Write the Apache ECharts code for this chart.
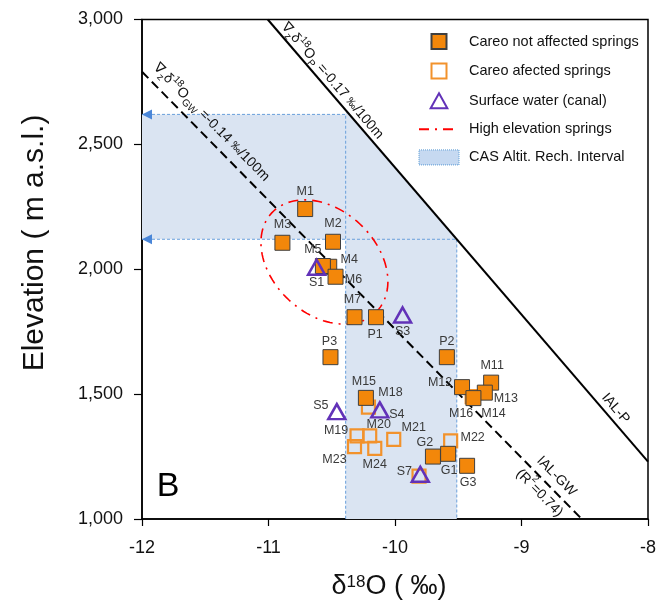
<!DOCTYPE html>
<html>
<head>
<meta charset="utf-8">
<script src="https://cdn.jsdelivr.net/npm/echarts@6/dist/echarts.min.js"></script>
<style>
  html, body { margin: 0; padding: 0; background: #fff; }
  #chart { width: 659px; height: 608px; }
</style>
</head>
<body>
<div id="chart"></div>
<script>
// Axis ticks
const xTicks = [-12, -11, -10, -9, -8];
const yTicks = [1000, 1500, 2000, 2500, 3000];

// Careo springs not affected
const notAffectedNames = ['M1', 'M2', 'M3', 'M4', 'M5', 'M6', 'M7', 'P1', 'P2', 'P3', 'M11', 'M12', 'M13', 'M14', 'M15', 'G1', 'G2', 'G3'];
const notAffectedD18O  = [-10.71, -10.49, -10.89, -10.52, -10.57, -10.47, -10.32, -10.15, -9.59, -10.51, -9.24, -9.47, -9.29, -9.38, -10.23, -9.58, -9.70, -9.43];
const notAffectedElev  = [2241, 2110, 2106, 2010, 2013, 1970, 1808, 1808, 1648, 1648, 1546, 1528, 1506, 1484, 1485, 1261, 1250, 1213];

// Careo affected springs
const affectedNames = ['M16', 'M18', 'M19', 'M20', 'M21', 'M22', 'M23', 'M24', ''];
const affectedD18O  = [-9.39, -10.21, -10.30, -10.20, -10.01, -9.56, -10.32, -10.16, -9.81];
const affectedElev  = [1490, 1448, 1333, 1333, 1319, 1313, 1290, 1283, 1172];

// Surface water (canal)
const surfaceNames = ['S1', 'S3', 'S4', 'S5', 'S7'];
const surfaceD18O  = [-10.62, -9.94, -10.12, -10.46, -9.80];
const surfaceElev  = [2008, 1817, 1437, 1430, 1179];

// Isotope-altitude lines (end points)
const ialPD18O  = [-11.006, -8.0];
const ialPElev  = [3000, 1230];
const ialGWD18O = [-12.0, -8.524];
const ialGWElev = [2791, 1000];

// CAS recharge altitude interval
const casElev = [2120, 2620];
const casD18OLeft = -10.39;

// High elevation springs group (ellipse centre)
const hiElevCenter = [-10.558, 2029];

// Label placement for the sample names (pixel offsets from the marker)
const labelOffsets = {
  M1: [0, -18], M2: [0, -18], M3: [0, -18], M4: [20, -7], M5: [-10, -16], M6: [18, 3],
  M7: [-2, -18], P1: [-1, 17], P2: [0, -16], P3: [-1, -16], M11: [1, -17], M12: [-22, -5],
  M13: [21, 6], M14: [20, 15], M15: [-2, -16], G1: [1, 17], G2: [-8, -14], G3: [1, 17],
  M16: [-11, 17], M18: [22, -15], M19: [-21, -5], M20: [9, -11], M21: [20, -12], M22: [22, -3],
  M23: [-20, 13], M24: [0, 16], '': [0, 0],
  S1: [0, 15], S3: [0, 17], S4: [17, 5], S5: [-16, -6], S7: [-16, -3]
};

const FONT = 'Arial, "Liberation Sans", sans-serif';

function lerp(xs, ys, x) {
  return ys[0] + (x - xs[0]) * (ys[1] - ys[0]) / (xs[1] - xs[0]);
}
const casRight = lerp(ialPElev, ialPD18O, casElev[0]);

function points(names, xs, ys) {
  return names.map((n, i) => ({
    name: n,
    value: [xs[i], ys[i]],
    label: { offset: labelOffsets[n] }
  }));
}

const pointLabel = {
  show: true,
  position: 'inside',
  formatter: '{b}',
  color: '#3a3a3a',
  fontSize: 12.5,
  fontFamily: FONT
};

const chart = echarts.init(document.getElementById('chart'), null, { renderer: 'canvas' });

const subSup = {
  sub: { fontSize: 10, verticalAlign: 'bottom', fontFamily: FONT, fill: '#111' },
  sup: { fontSize: 10, verticalAlign: 'top', fontFamily: FONT, fill: '#111' },
  pm: { fontSize: 11, fontFamily: FONT, fill: '#111' }
};

const option = {
  animation: false,
  backgroundColor: '#fff',
  grid: {
    left: 142, right: 10, top: 19.5, bottom: 89,
    show: true, borderColor: '#000', borderWidth: 1.5
  },
  xAxis: {
    type: 'value',
    min: xTicks[0], max: xTicks[xTicks.length - 1], interval: 1,
    axisLine: { show: true, onZero: false, lineStyle: { color: '#000', width: 1.5 } },
    axisTick: { show: true, length: 7, lineStyle: { color: '#000', width: 1.2 } },
    axisLabel: { color: '#111', fontSize: 18, margin: 20, fontFamily: FONT },
    splitLine: { show: false }
  },
  yAxis: {
    type: 'value',
    min: yTicks[0], max: yTicks[yTicks.length - 1], interval: 500,
    axisLine: { show: true, onZero: false, lineStyle: { color: '#000', width: 1.5 } },
    axisTick: { show: true, length: 8, lineStyle: { color: '#000', width: 1.2 } },
    axisLabel: {
      color: '#111', fontSize: 18, margin: 19, fontFamily: FONT,
      formatter: v => v.toLocaleString('en-US')
    },
    splitLine: { show: false }
  },
  legend: {
    orient: 'vertical',
    left: 413, top: 28,
    itemWidth: 40, itemHeight: 15, itemGap: 12.6,
    textStyle: { fontSize: 14.5, color: '#111', fontFamily: FONT, padding: [0, 0, 0, 5] },
    selectedMode: false,
    data: [
      { name: 'Careo not affected springs', icon: 'path://M0,0H10V10H0Z' },
      { name: 'Careo afected springs', icon: 'path://M0,0H10V10H0Z' },
      { name: 'Surface water (canal)', icon: 'path://M5,0L10,9H0Z' },
      { name: 'High elevation springs',
        itemStyle: { color: 'rgba(0,0,0,0)', borderColor: 'rgba(0,0,0,0)', borderWidth: 0, opacity: 0 } },
      { name: 'CAS Altit. Rech. Interval', icon: 'rect',
        itemStyle: { color: '#C6D9F1', borderColor: '#5B9BD5', borderWidth: 1, borderType: 'dotted' } }
    ]
  },
  graphic: [
    {
      type: 'text', x: 35, y: 243, rotation: Math.PI / 2,
      style: { text: 'Elevation ( m a.s.l.)', font: '30px ' + FONT, fill: '#111', align: 'center', verticalAlign: 'middle' }
    },
    {
      type: 'text', x: 389, y: 587,
      style: {
        text: 'δ{sup|18}O ( ‰)', font: '27px ' + FONT, fill: '#111', align: 'center', verticalAlign: 'middle',
        rich: { sup: { fontSize: 17, verticalAlign: 'top', fontFamily: FONT, fill: '#111' } }
      }
    },
    {
      type: 'text', x: 168, y: 487,
      style: { text: 'B', font: '34px ' + FONT, fill: '#000', align: 'center', verticalAlign: 'middle' }
    }
  ],
  series: [
    // CAS altitude recharge interval: shaded area with dashed bounds
    {
      type: 'custom',
      name: 'CAS Altit. Rech. Interval',
      silent: true,
      z: 1,
      itemStyle: { color: '#C6D9F1' },
      data: [[xTicks[0], yTicks[0]]],
      renderItem: function (params, api) {
        const c = p => api.coord(p);
        const xMin = xTicks[0], yMin = yTicks[0];
        const poly = [
          [xMin, casElev[1]], [casD18OLeft, casElev[1]],
          [casD18OLeft, lerp(ialPD18O, ialPElev, casD18OLeft)],
          [casRight, casElev[0]], [casRight, yMin],
          [casD18OLeft, yMin], [casD18OLeft, casElev[0]], [xMin, casElev[0]]
        ].map(c);
        const dash = { stroke: '#6A9FDB', lineWidth: 1, lineDash: [3, 2], fill: null };
        const arrow = p => ({
          type: 'polygon',
          shape: { points: [[p[0], p[1]], [p[0] + 10, p[1] - 5], [p[0] + 10, p[1] + 5]] },
          style: { fill: '#4A86D8' }
        });
        const topL = c([xMin, casElev[1]]), topR = c([casD18OLeft, casElev[1]]);
        const botL = c([xMin, casElev[0]]), botR = c([casRight, casElev[0]]);
        return {
          type: 'group',
          children: [
            { type: 'polygon', shape: { points: poly }, style: { fill: '#DAE4F2' } },
            { type: 'polyline', shape: { points: [topL, topR, c([casD18OLeft, yMin])] }, style: dash },
            { type: 'polyline', shape: { points: [botL, botR, c([casRight, yMin])] }, style: dash },
            arrow(topL),
            arrow(botL)
          ]
        };
      }
    },
    // Precipitation isotope-altitude line
    {
      type: 'line', name: 'IAL-P', silent: true, z: 2,
      symbol: 'none',
      lineStyle: { color: '#000', width: 2 },
      data: ialPD18O.map((x, i) => [x, ialPElev[i]])
    },
    // Groundwater isotope-altitude line
    {
      type: 'line', name: 'IAL-GW', silent: true, z: 2,
      symbol: 'none',
      lineStyle: { color: '#000', width: 2, type: [9, 5] },
      data: ialGWD18O.map((x, i) => [x, ialGWElev[i]])
    },
    // Rotated line annotations
    {
      type: 'custom', name: 'line-labels', silent: true, z: 3,
      data: [[xTicks[0], yTicks[0]]],
      renderItem: function (params, api) {
        function place(xs, ys, atX, dist, text, fontSize, lineHeight) {
          const p0 = api.coord([xs[0], ys[0]]), p1 = api.coord([xs[1], ys[1]]);
          const ang = Math.atan2(p1[1] - p0[1], p1[0] - p0[0]);
          const f = api.coord([atX, lerp(xs, ys, atX)]);
          return {
            type: 'text',
            x: f[0] + Math.sin(ang) * dist,
            y: f[1] - Math.cos(ang) * dist,
            rotation: -ang,
            style: {
              text: text, rich: subSup, fontSize: fontSize, fontFamily: FONT, fill: '#111',
              lineHeight: lineHeight, align: 'center', verticalAlign: 'middle'
            }
          };
        }
        return {
          type: 'group',
          children: [
            place(ialPD18O, ialPElev, -10.549, 9, '∇{sub|z}δ{sup|18}O{sub|P} =-0.17 {pm|‰}/100m', 14, 20),
            place(ialGWD18O, ialGWElev, -11.530, 14, '∇{sub|z}δ{sup|18}O{sub|GW} =-0.14 {pm|‰}/100m', 14, 20),
            place(ialPD18O, ialPElev, -8.317, 10, 'IAL-P', 14, 18),
            place(ialGWD18O, ialGWElev, -8.791, 0, 'IAL-GW\n(R{sup|2}=0.74)', 14, 24)
          ]
        };
      }
    },
    // High elevation springs outline
    {
      type: 'custom', name: 'high-elevation-outline', silent: true, z: 3,
      data: [hiElevCenter],
      renderItem: function (params, api) {
        const c = api.coord(hiElevCenter);
        const th = 43 * Math.PI / 180, a = 72, b = 52;
        const pts = [];
        for (let k = 0; k <= 120; k++) {
          const t = 2 * Math.PI * k / 120;
          const u = a * Math.cos(t), v = b * Math.sin(t);
          pts.push([c[0] + u * Math.cos(th) - v * Math.sin(th), c[1] + u * Math.sin(th) + v * Math.cos(th)]);
        }
        return {
          type: 'polyline', shape: { points: pts },
          style: { stroke: '#FF0000', lineWidth: 1.6, lineDash: [10, 6, 2, 6], fill: null }
        };
      }
    },
    {
      type: 'line', name: 'High elevation springs', data: [],
      symbol: 'none',
      lineStyle: { color: '#FF0000', width: 1.8, type: [10, 6, 2, 6] },
      itemStyle: { color: 'rgba(0,0,0,0)', borderWidth: 0 }
    },
    {
      type: 'scatter', name: 'Careo afected springs', z: 4,
      symbol: 'rect', symbolSize: 13,
      itemStyle: { color: 'rgba(255,255,255,0)', borderColor: '#F2922C', borderWidth: 2.2, opacity: 1 },
      label: pointLabel,
      data: points(affectedNames, affectedD18O, affectedElev)
    },
    {
      type: 'scatter', name: 'Careo not affected springs', z: 5,
      symbol: 'rect', symbolSize: 15,
      itemStyle: { color: '#F3870A', borderColor: '#3F3F3F', borderWidth: 1, opacity: 1 },
      label: pointLabel,
      data: points(notAffectedNames, notAffectedD18O, notAffectedElev)
    },
    {
      type: 'scatter', name: 'Surface water (canal)', z: 6,
      symbol: 'triangle', symbolSize: [17, 15],
      itemStyle: { color: 'rgba(255,255,255,0)', borderColor: '#6232B8', borderWidth: 2.5, opacity: 1 },
      label: pointLabel,
      data: points(surfaceNames, surfaceD18O, surfaceElev)
    }
  ]
};

chart.setOption(option);
</script>
</body>
</html>
